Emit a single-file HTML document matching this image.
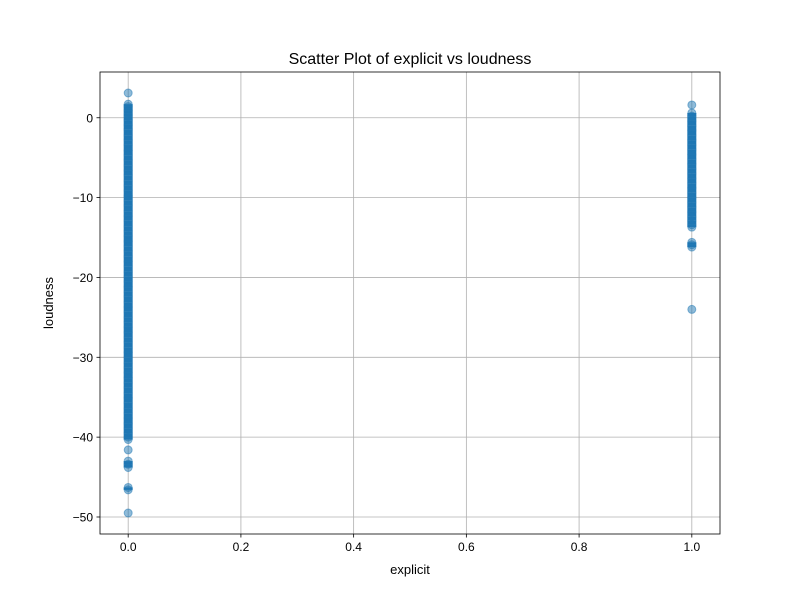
<!DOCTYPE html>
<html><head><meta charset="utf-8"><style>
body{margin:0;background:#fff;font-family:"Liberation Sans","DejaVu Sans",sans-serif}
</style></head><body>
<svg id="chart" width="800" height="600" xmlns="http://www.w3.org/2000/svg">
<rect width="800" height="600" fill="#fff"/>
<g id="grid"></g><g id="points"></g><g id="axes"></g>
</svg>
<script>
const xTicks=[0,0.2,0.4,0.6,0.8,1.0];
const xTickLabels=["0.0","0.2","0.4","0.6","0.8","1.0"];
const yTicks=[0,-10,-20,-30,-40,-50];
const yTickLabels=["0","\u221210","\u221220","\u221230","\u221240","\u221250"];
const cleanLoudness=[3.1,1.7,1.4,0.9,0.5,0.2,-0.3,-0.9,-1.5,-2.2,-2.8,-3.4,-4.1,-4.7,-5.3,-6.0,-6.6,-7.2,-7.9,-8.5,-9.1,-9.8,-10.4,-11.0,-11.7,-12.3,-12.9,-13.6,-14.2,-14.8,-15.5,-16.1,-16.7,-17.4,-18.0,-18.6,-19.3,-19.9,-20.5,-21.2,-21.8,-22.4,-23.1,-23.7,-24.3,-25.0,-25.6,-26.2,-26.9,-27.5,-28.1,-28.8,-29.4,-30.0,-30.7,-31.3,-31.9,-32.6,-33.2,-33.8,-34.5,-35.1,-35.7,-36.4,-37.0,-37.6,-38.3,-38.9,-39.5,-40.0,-40.3,-41.6,-43.0,-43.4,-43.8,-46.3,-46.6,-49.5];
const explicitLoudness=[1.6,0.6,0.2,-0.4,-1.0,-1.6,-2.2,-2.8,-3.4,-4.0,-4.6,-5.2,-5.8,-6.4,-7.0,-7.6,-8.2,-8.8,-9.4,-10.0,-10.6,-11.2,-11.8,-12.4,-12.9,-13.4,-13.7,-15.6,-15.9,-16.2,-24.0];
const L=100,R=720,T=72,B=534,xmin=-0.05,xmax=1.05,ymin=-52.13,ymax=5.73;
const sx=v=>L+(v-xmin)/(xmax-xmin)*(R-L);
const sy=v=>B-(v-ymin)/(ymax-ymin)*(B-T);
const NS="http://www.w3.org/2000/svg";
function mk(tag,attrs,parent,text){const e=document.createElementNS(NS,tag);for(const k in attrs)e.setAttribute(k,attrs[k]);if(text!==undefined)e.textContent=text;parent.appendChild(e);return e;}
const grid=document.getElementById('grid'),pts=document.getElementById('points'),axes=document.getElementById('axes');
xTicks.forEach((t,i)=>{const x=sx(t);
 const g=mk('line',{x1:x,x2:x,y1:T,y2:B,stroke:'#b0b0b0','stroke-width':0.8},grid);
 
 
 mk('line',{x1:x,x2:x,y1:B,y2:B+3.5,stroke:'#000','stroke-width':0.8},axes);
 const tl=mk('text',{x:x,y:B+17,'text-anchor':'middle','font-size':'12px',fill:'#000'},axes,xTickLabels[i]);
 
 
});
yTicks.forEach((t,i)=>{const y=sy(t);
 const g=mk('line',{x1:L,x2:R,y1:y,y2:y,stroke:'#b0b0b0','stroke-width':0.8},grid);
 
 
 mk('line',{x1:L-3.5,x2:L,y1:y,y2:y,stroke:'#000','stroke-width':0.8},axes);
 const tl=mk('text',{x:L-7,y:y+4.5,'text-anchor':'end','font-size':'12px',fill:'#000'},axes,yTickLabels[i]);
 
 
});
function drawSeries(xv,arr){
 for(let i=0;i<arr.length;i++){
  const c=mk('circle',{cx:sx(xv),cy:sy(arr[i]),r:4,fill:'#1f77b4','fill-opacity':0.5,stroke:'#1f77b4','stroke-opacity':0.5,'stroke-width':1},pts);
  
  
  if(i+1<arr.length && arr[i]-arr[i+1]<1){
   const r=mk('rect',{x:sx(xv)-4.5,y:sy(arr[i]),width:9,height:sy(arr[i+1])-sy(arr[i]),fill:'#1f77b4'},pts);
   
   
  }
 }
}
drawSeries(0,cleanLoudness);
drawSeries(1,explicitLoudness);
const fr=mk('rect',{x:L,y:T,width:R-L,height:B-T,fill:'none',stroke:'#000','stroke-width':0.8},axes);


const tt=mk('text',{x:(L+R)/2,y:64,'text-anchor':'middle','font-size':'16px',fill:'#000'},axes,'Scatter Plot of explicit vs loudness');


const xl=mk('text',{x:(L+R)/2,y:574,'text-anchor':'middle','font-size':'13px',fill:'#000'},axes,'explicit');


const yl=mk('text',{x:53,y:(T+B)/2,'text-anchor':'middle','font-size':'13px',fill:'#000',transform:`rotate(-90 53 ${(T+B)/2})`},axes,'loudness');


</script>
</body></html>
